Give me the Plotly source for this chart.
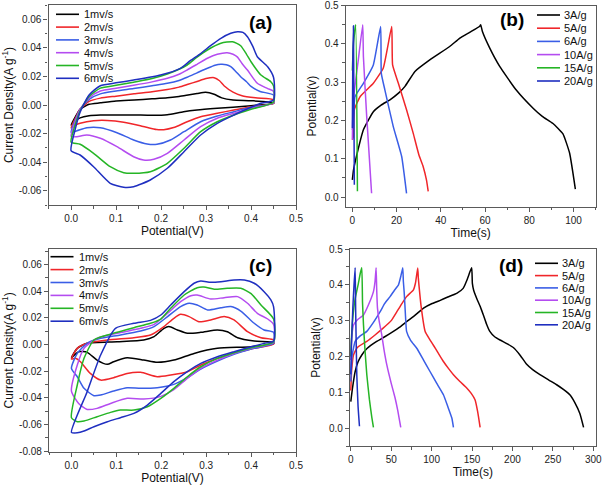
import plotly.graph_objects as go

# ---------------- labels / series names ----------------
SCAN_RATES = ["1mv/s", "2mv/s", "3mv/s", "4mv/s", "5mv/s", "6mv/s"]
CURRENT_DENSITIES = ["3A/g", "5A/g", "6A/g", "10A/g", "15A/g", "20A/g"]
COLORS = ["#000000", "#f0262a", "#3a5ee6", "#b44cf0", "#25b525", "#1f2fc0"]

# ---------------- panel (a): CV curves ----------------
A_UP_V = [
    [0, 0.01, 0.02, 0.04, 0.065, 0.1, 0.14, 0.18, 0.214, 0.24, 0.26, 0.28, 0.299, 0.318, 0.335, 0.36, 0.4, 0.45],
    [0, 0.01, 0.02, 0.04, 0.065, 0.1, 0.14, 0.18, 0.214, 0.24, 0.26, 0.28, 0.3, 0.318, 0.33, 0.34, 0.36, 0.38, 0.41, 0.45],
    [0, 0.01, 0.02, 0.04, 0.065, 0.1, 0.139, 0.18, 0.214, 0.24, 0.258, 0.28, 0.303, 0.32, 0.333, 0.345, 0.355, 0.366, 0.377, 0.39, 0.4, 0.42, 0.45],
    [0, 0.01, 0.02, 0.04, 0.065, 0.1, 0.139, 0.18, 0.214, 0.24, 0.258, 0.28, 0.303, 0.325, 0.347, 0.36, 0.37, 0.38, 0.392, 0.414, 0.437, 0.45],
    [0, 0.01, 0.02, 0.04, 0.065, 0.1, 0.139, 0.18, 0.214, 0.24, 0.258, 0.28, 0.303, 0.333, 0.359, 0.377, 0.39, 0.4, 0.422, 0.444, 0.45],
    [0, 0.01, 0.02, 0.04, 0.065, 0.1, 0.139, 0.199, 0.243, 0.265, 0.288, 0.31, 0.333, 0.355, 0.37, 0.382, 0.392, 0.404, 0.414, 0.437, 0.45],
]
A_UP_J = [
    [-0.014, -0.008, -0.003, 0.0005, 0.0015, 0.0028, 0.0035, 0.0043, 0.005, 0.006, 0.007, 0.008, 0.0089, 0.0075, 0.005, 0.0035, 0.003, 0.0016],
    [-0.016, -0.009, -0.003, 0.0025, 0.0048, 0.0062, 0.0078, 0.0092, 0.0108, 0.0125, 0.0145, 0.0165, 0.0185, 0.0191, 0.017, 0.0135, 0.009, 0.0065, 0.005, 0.0037],
    [-0.019, -0.01, -0.003, 0.004, 0.0078, 0.0098, 0.0115, 0.0135, 0.0152, 0.0172, 0.0194, 0.0225, 0.0257, 0.0278, 0.0285, 0.0282, 0.0268, 0.0235, 0.0198, 0.0163, 0.013, 0.0095, 0.007],
    [-0.022, -0.011, -0.003, 0.005, 0.0098, 0.0118, 0.0138, 0.0162, 0.0187, 0.0215, 0.0245, 0.0285, 0.0327, 0.0355, 0.0366, 0.0355, 0.0335, 0.029, 0.0245, 0.0152, 0.0115, 0.0095],
    [-0.026, -0.013, -0.004, 0.006, 0.0118, 0.0138, 0.016, 0.0185, 0.0217, 0.025, 0.028, 0.0335, 0.0385, 0.0432, 0.0443, 0.0415, 0.0355, 0.0303, 0.021, 0.0163, 0.0135],
    [-0.032, -0.016, -0.005, 0.007, 0.0135, 0.0155, 0.0175, 0.021, 0.0257, 0.031, 0.036, 0.0415, 0.0467, 0.0502, 0.0513, 0.0508, 0.0478, 0.041, 0.0338, 0.0268, 0.0194],
]
A_LOW_V = [
    [0.45, 0.42, 0.4, 0.36, 0.325, 0.28, 0.25, 0.214, 0.18, 0.14, 0.1, 0.065, 0.04, 0.02, 0.01, 0],
    [0.45, 0.4, 0.362, 0.325, 0.288, 0.258, 0.228, 0.206, 0.19, 0.17, 0.154, 0.117, 0.08, 0.05, 0.02, 0.01, 0],
    [0.45, 0.4, 0.362, 0.325, 0.288, 0.251, 0.221, 0.191, 0.169, 0.139, 0.102, 0.065, 0.035, 0.013, 0],
    [0.45, 0.4, 0.362, 0.325, 0.288, 0.251, 0.214, 0.184, 0.161, 0.139, 0.102, 0.065, 0.035, 0.013, 0],
    [0.45, 0.4, 0.362, 0.325, 0.288, 0.251, 0.214, 0.176, 0.139, 0.117, 0.087, 0.05, 0.02, 0],
    [0.45, 0.422, 0.4, 0.362, 0.325, 0.288, 0.251, 0.214, 0.176, 0.139, 0.117, 0.087, 0.05, 0.02, 0],
]
A_LOW_J = [
    [0.001, 0.0, -0.0005, -0.0015, -0.0023, -0.0035, -0.0047, -0.0068, -0.0072, -0.007, -0.007, -0.007, -0.0075, -0.009, -0.011, -0.014],
    [0.0012, -0.0012, -0.0035, -0.0058, -0.0082, -0.0117, -0.0158, -0.0173, -0.0172, -0.0158, -0.0145, -0.012, -0.0108, -0.011, -0.0128, -0.014, -0.016],
    [0.0015, -0.0016, -0.0047, -0.0077, -0.0117, -0.0187, -0.0245, -0.0275, -0.0273, -0.0245, -0.0194, -0.0159, -0.0159, -0.018, -0.019],
    [0.0015, -0.0023, -0.0058, -0.0093, -0.0152, -0.0245, -0.0338, -0.038, -0.0385, -0.0362, -0.0292, -0.0233, -0.021, -0.0222, -0.022],
    [0.002, -0.003, -0.007, -0.0117, -0.0187, -0.0303, -0.0408, -0.0467, -0.0478, -0.0474, -0.0432, -0.0338, -0.0275, -0.026],
    [0.0035, 0.0012, -0.0016, -0.007, -0.0128, -0.021, -0.0327, -0.0443, -0.0525, -0.0572, -0.0576, -0.0548, -0.0432, -0.035, -0.032],
]

# ---------------- panel (c): CV curves ----------------
C_UP_V = [
    [0, 0.013, 0.035, 0.102, 0.161, 0.184, 0.206, 0.217, 0.236, 0.258, 0.288, 0.325, 0.347, 0.37, 0.407, 0.45],
    [0, 0.013, 0.035, 0.08, 0.139, 0.176, 0.206, 0.228, 0.243, 0.262, 0.284, 0.31, 0.34, 0.362, 0.392, 0.422, 0.45],
    [0, 0.013, 0.035, 0.065, 0.109, 0.154, 0.184, 0.214, 0.243, 0.262, 0.28, 0.303, 0.333, 0.355, 0.377, 0.407, 0.429, 0.45],
    [0, 0.013, 0.028, 0.057, 0.102, 0.154, 0.184, 0.214, 0.243, 0.266, 0.28, 0.31, 0.34, 0.37, 0.392, 0.414, 0.437, 0.45],
    [0, 0.013, 0.028, 0.05, 0.08, 0.139, 0.176, 0.199, 0.221, 0.251, 0.28, 0.295, 0.318, 0.347, 0.377, 0.4, 0.422, 0.45],
    [0, 0.035, 0.065, 0.098, 0.139, 0.176, 0.199, 0.221, 0.251, 0.273, 0.288, 0.31, 0.333, 0.362, 0.385, 0.407, 0.429, 0.444, 0.45],
]
C_UP_J = [
    [-0.01, -0.003, 0.0008, 0.002, 0.0033, 0.0058, 0.012, 0.0133, 0.0108, 0.0083, 0.009, 0.0108, 0.0095, 0.005, 0.0025, 0.0015],
    [-0.011, -0.003, 0.0008, 0.0033, 0.005, 0.007, 0.0133, 0.0195, 0.0225, 0.0208, 0.017, 0.0183, 0.0208, 0.0183, 0.0095, 0.005, 0.0033],
    [-0.018, -0.0068, 0.0008, 0.0045, 0.007, 0.01, 0.0133, 0.0208, 0.0283, 0.0308, 0.0295, 0.0258, 0.0275, 0.0283, 0.025, 0.0158, 0.0108, 0.009],
    [-0.035, -0.0155, -0.003, 0.0045, 0.0083, 0.012, 0.015, 0.0233, 0.032, 0.0365, 0.037, 0.034, 0.035, 0.0358, 0.0308, 0.0233, 0.019, 0.015],
    [-0.055, -0.0305, -0.0105, 0.0033, 0.007, 0.0125, 0.0158, 0.019, 0.027, 0.037, 0.0425, 0.043, 0.0413, 0.042, 0.042, 0.038, 0.0295, 0.019],
    [-0.066, -0.0355, -0.008, 0.012, 0.0158, 0.018, 0.022, 0.0295, 0.0395, 0.0458, 0.0475, 0.0465, 0.047, 0.0483, 0.0483, 0.0458, 0.0395, 0.0333, 0.0283],
]
C_LOW_V = [
    [0.45, 0.4, 0.325, 0.273, 0.228, 0.191, 0.161, 0.124, 0.094, 0.08, 0.057, 0.035, 0.016, 0],
    [0.45, 0.4, 0.362, 0.325, 0.288, 0.258, 0.221, 0.191, 0.154, 0.124, 0.094, 0.065, 0.042, 0.02, 0.009, 0],
    [0.45, 0.4, 0.362, 0.325, 0.288, 0.258, 0.228, 0.191, 0.154, 0.124, 0.094, 0.065, 0.05, 0.028, 0.013, 0],
    [0.45, 0.4, 0.362, 0.325, 0.288, 0.258, 0.228, 0.199, 0.161, 0.124, 0.087, 0.057, 0.035, 0.016, 0],
    [0.45, 0.4, 0.362, 0.325, 0.288, 0.258, 0.228, 0.199, 0.169, 0.139, 0.109, 0.087, 0.057, 0.028, 0.013, 0],
    [0.45, 0.43, 0.4, 0.362, 0.325, 0.288, 0.258, 0.228, 0.199, 0.169, 0.139, 0.109, 0.08, 0.05, 0.028, 0.013, 0],
]
C_LOW_J = [
    [0.0005, -0.0018, -0.003, -0.0068, -0.0118, -0.0135, -0.0118, -0.01, -0.013, -0.015, -0.0118, -0.006, -0.0055, -0.01],
    [0.0003, -0.0035, -0.0068, -0.0105, -0.0155, -0.0205, -0.023, -0.0243, -0.021, -0.0218, -0.025, -0.0268, -0.0218, -0.013, -0.0105, -0.011],
    [0.0008, -0.0035, -0.0075, -0.0125, -0.0185, -0.025, -0.03, -0.0325, -0.033, -0.0325, -0.035, -0.038, -0.0385, -0.033, -0.0243, -0.018],
    [0.0015, -0.003, -0.0068, -0.0118, -0.018, -0.0255, -0.034, -0.039, -0.041, -0.0405, -0.0443, -0.048, -0.0488, -0.0443, -0.035],
    [0.002, -0.0025, -0.0063, -0.0105, -0.0168, -0.0243, -0.033, -0.0405, -0.0468, -0.0493, -0.0493, -0.051, -0.0543, -0.0575, -0.058, -0.055],
    [0.0025, 0.0008, -0.0018, -0.0055, -0.0093, -0.0143, -0.0205, -0.028, -0.0368, -0.0455, -0.0518, -0.055, -0.058, -0.0618, -0.065, -0.0663, -0.066],
]

# ---------------- panel (b): charge / discharge ----------------
B_TIME = [
    [0, 0.5, 2, 5, 9.5, 13, 17, 21, 23.8, 28.3, 35, 44, 48.6, 53, 57.6, 58, 58.8, 62, 66.6, 74, 81.7, 86, 90.7, 95.2, 98.2, 100.8],
    [0, 0.45, 0.9, 3.5, 9.5, 14, 17.8, 18.2, 20.8, 24.5, 27.5, 30.1, 32, 33.5, 34.3],
    [0, 0.2, 1.2, 5, 9.5, 12.8, 13.1, 14.7, 18.5, 22.3, 24.5],
    [0, 0.45, 2.7, 4.7, 5, 6.5, 8.7],
    [0, 0.5, 1.5, 2.3],
    [0, 0.2, 0.5, 0.7, 0.9],
]
B_POT = [
    [0.045, 0.07, 0.11, 0.176, 0.223, 0.24, 0.254, 0.272, 0.289, 0.328, 0.358, 0.393, 0.415, 0.43, 0.446, 0.45, 0.432, 0.39, 0.341, 0.28, 0.232, 0.21, 0.192, 0.165, 0.115, 0.021],
    [0.15, 0.158, 0.228, 0.262, 0.297, 0.337, 0.445, 0.345, 0.297, 0.228, 0.167, 0.11, 0.08, 0.045, 0.015],
    [0.175, 0.18, 0.262, 0.297, 0.345, 0.445, 0.323, 0.28, 0.184, 0.106, 0.01],
    [0.15, 0.254, 0.358, 0.45, 0.367, 0.21, 0.01],
    [0.33, 0.4, 0.45, 0.015],
    [0.18, 0.35, 0.447, 0.25, 0.032],
]

# ---------------- panel (d): charge / discharge ----------------
D_TIME = [
    [0, 2, 5.4, 9, 13.6, 20, 32, 42, 52.7, 60, 69, 80, 90, 100, 110, 120, 131, 139, 144, 147.5, 149.6, 150.4, 152, 155.8, 160, 164, 168, 172, 178, 184.6, 193, 201, 209, 217.6, 225, 234, 245, 254.7, 263, 271, 277, 283.5, 288],
    [0, 1, 3.3, 8, 19.8, 30, 40, 50, 57, 63, 69, 74, 77.5, 80, 82.8, 83.5, 84.5, 87, 92, 97, 102, 108, 114.6, 121, 127, 135, 143.4, 149, 153.7, 157, 160],
    [0, 1.5, 5.4, 12, 19.8, 28, 36.3, 42, 48.6, 54, 59, 62, 64.3, 65, 66, 67.5, 69, 74, 81.6, 90, 98, 106, 114.6, 120, 125, 127],
    [0, 1, 3.3, 8, 15.7, 22, 28, 30, 31.3, 32, 33, 35, 38.3, 41, 44.5, 50, 54.8, 58, 61.8],
    [0, 1, 3, 5.4, 9, 12, 13.6, 14.5, 15.7, 17.5, 19.8, 23, 26, 28],
    [0, 0.8, 2.5, 4, 5.4, 6, 7.4, 9, 10.7],
]
D_POT = [
    [0.074, 0.11, 0.158, 0.185, 0.204, 0.222, 0.242, 0.255, 0.27, 0.281, 0.297, 0.316, 0.335, 0.347, 0.356, 0.366, 0.376, 0.39, 0.415, 0.437, 0.448, 0.404, 0.385, 0.362, 0.34, 0.316, 0.29, 0.27, 0.255, 0.246, 0.236, 0.225, 0.205, 0.178, 0.163, 0.149, 0.134, 0.121, 0.108, 0.093, 0.072, 0.04, 0.002],
    [0.105, 0.16, 0.204, 0.225, 0.242, 0.26, 0.279, 0.3, 0.325, 0.347, 0.367, 0.378, 0.386, 0.405, 0.447, 0.42, 0.395, 0.34, 0.27, 0.25, 0.232, 0.21, 0.186, 0.166, 0.149, 0.13, 0.112, 0.097, 0.079, 0.045, 0.002],
    [0.13, 0.2, 0.242, 0.258, 0.27, 0.295, 0.325, 0.348, 0.367, 0.385, 0.4, 0.425, 0.448, 0.41, 0.381, 0.32, 0.27, 0.245, 0.223, 0.19, 0.158, 0.126, 0.093, 0.06, 0.028, 0.002],
    [0.19, 0.25, 0.288, 0.302, 0.316, 0.345, 0.381, 0.41, 0.448, 0.39, 0.335, 0.3, 0.26, 0.22, 0.177, 0.125, 0.084, 0.05, 0.002],
    [0.2, 0.26, 0.32, 0.362, 0.4, 0.435, 0.448, 0.35, 0.288, 0.22, 0.149, 0.08, 0.03, 0.002],
    [0.15, 0.23, 0.335, 0.4, 0.448, 0.33, 0.149, 0.06, 0.005],
]

# ---------------- axis ticks ----------------
CV_X_TICKS = [0.0, 0.1, 0.2, 0.3, 0.4, 0.5]
CV_X_LABELS = ["0.0", "0.1", "0.2", "0.3", "0.4", "0.5"]
A_Y_TICKS = [-0.06, -0.04, -0.02, 0.0, 0.02, 0.04, 0.06]
A_Y_LABELS = ["-0.06", "-0.04", "-0.02", "0.00", "0.02", "0.04", "0.06"]
C_Y_TICKS = [-0.08, -0.06, -0.04, -0.02, 0.0, 0.02, 0.04, 0.06]
C_Y_LABELS = ["-0.08", "-0.06", "-0.04", "-0.02", "0.00", "0.02", "0.04", "0.06"]
B_X_TICKS = [0, 20, 40, 60, 80, 100]
D_X_TICKS = [0, 50, 100, 150, 200, 250, 300]
GCD_Y_TICKS = [0.0, 0.1, 0.2, 0.3, 0.4, 0.5]
GCD_Y_LABELS = ["0.0", "0.1", "0.2", "0.3", "0.4", "0.5"]

# ---------------- layout geometry (pixels in 605x485 canvas) ----------------
W, H = 605, 485
BOX = {  # left, top, right, bottom
    "a": (48.6, 5.0, 296.0, 205.0),
    "b": (345.7, 5.5, 595.7, 206.7),
    "c": (49.0, 249.0, 296.0, 451.7),
    "d": (350.0, 249.0, 595.7, 446.0),
}
AX = {"a": ("x", "y", ""), "b": ("x2", "y2", "2"), "c": ("x3", "y3", "3"), "d": ("x4", "y4", "4")}

FONT = "Arial, Liberation Sans, sans-serif"
AXCOL = "#5a5a5a"

fig = go.Figure()

for i, name in enumerate(SCAN_RATES):
    fig.add_trace(go.Scatter(x=A_UP_V[i] + A_LOW_V[i], y=A_UP_J[i] + A_LOW_J[i], mode="lines", name=name,
                             line=dict(color=COLORS[i], width=1.5, shape="spline", smoothing=0.6),
                             xaxis="x", yaxis="y", showlegend=False))
for i, name in enumerate(CURRENT_DENSITIES):
    fig.add_trace(go.Scatter(x=B_TIME[i], y=B_POT[i], mode="lines", name=name,
                             line=dict(color=COLORS[i], width=1.5, shape="spline", smoothing=0.4),
                             xaxis="x2", yaxis="y2", showlegend=False))
for i, name in enumerate(SCAN_RATES):
    fig.add_trace(go.Scatter(x=C_UP_V[i] + C_LOW_V[i], y=C_UP_J[i] + C_LOW_J[i], mode="lines", name=name,
                             line=dict(color=COLORS[i], width=1.5, shape="spline", smoothing=0.6),
                             xaxis="x3", yaxis="y3", showlegend=False))
for i, name in enumerate(CURRENT_DENSITIES):
    fig.add_trace(go.Scatter(x=D_TIME[i], y=D_POT[i], mode="lines", name=name,
                             line=dict(color=COLORS[i], width=1.5, shape="spline", smoothing=0.4),
                             xaxis="x4", yaxis="y4", showlegend=False))


def axis_common():
    return dict(showline=True, mirror=True, linecolor=AXCOL, linewidth=1.3, automargin=False,
                ticks="outside", ticklen=4, tickwidth=1, tickcolor=AXCOL,
                showgrid=False, zeroline=False,
                tickfont=dict(family=FONT, size=10, color="#222222"))


def dom(key):
    l, t, r, b = BOX[key]
    return [l / W, r / W], [1 - b / H, 1 - t / H]


specs = {
    "a": dict(xr=[-0.05, 0.5], yr=[-0.07, 0.07], xt=CV_X_TICKS, xl=CV_X_LABELS, yt=A_Y_TICKS, yl=A_Y_LABELS,
              xminor=0.05, yminor=0.01, xtitle="Potential(V)", ytitle="Current Density(A g<sup>-1</sup>)"),
    "b": dict(xr=[-3, 110], yr=[-0.025, 0.5], xt=B_X_TICKS, xl=[str(v) for v in B_X_TICKS], yt=GCD_Y_TICKS,
              yl=GCD_Y_LABELS, xminor=10, yminor=0.05, xtitle="Time(s)", ytitle="Potential(v)"),
    "c": dict(xr=[-0.05, 0.5], yr=[-0.0805, 0.0715], xt=CV_X_TICKS, xl=CV_X_LABELS, yt=C_Y_TICKS, yl=C_Y_LABELS,
              xminor=0.05, yminor=0.01, xtitle="Potential(V)", ytitle="Current Density(A g<sup>-1</sup>)"),
    "d": dict(xr=[-1, 303], yr=[-0.05, 0.5], xt=D_X_TICKS, xl=[str(v) for v in D_X_TICKS], yt=GCD_Y_TICKS,
              yl=GCD_Y_LABELS, xminor=25, yminor=0.05, xtitle="Time(s)", ytitle="Potential(v)"),
}

layout = dict(width=W, height=H, margin=dict(l=0, r=0, t=0, b=0),
              paper_bgcolor="white", plot_bgcolor="white", showlegend=False)

for key, s in specs.items():
    xd, yd = dom(key)
    xa, ya, suf = AX[key]
    xax = axis_common()
    xax.update(domain=xd, range=s["xr"], tickmode="array", tickvals=s["xt"], ticktext=s["xl"], anchor=ya,
               minor=dict(dtick=s["xminor"], ticks="outside", ticklen=2.5, tickcolor=AXCOL, tickwidth=1),
               title=dict(text=s["xtitle"], font=dict(family=FONT, size=12, color="#111111"), standoff=3))
    yax = axis_common()
    yax.update(domain=yd, range=s["yr"], tickmode="array", tickvals=s["yt"], ticktext=s["yl"], anchor=xa,
               minor=dict(dtick=s["yminor"], ticks="outside", ticklen=2.5, tickcolor=AXCOL, tickwidth=1),
               title=dict(text=s["ytitle"], font=dict(family=FONT, size=12, color="#111111"), standoff=5))
    layout["xaxis" + suf] = xax
    layout["yaxis" + suf] = yax

fig.update_layout(**layout)

# ---------------- panel letters and hand-made legends ----------------
LETTER_POS = {"a": (260, 23), "b": (512, 19.5), "c": (260, 265), "d": (511, 265)}
LEGEND_POS = {  # line start x, line end x, text x, first row y, row step (px)
    "a": (56, 79, 81.5, 14.3, 12.8),
    "b": (537, 560, 562, 15.0, 13.2),
    "c": (50.5, 73.5, 77, 256.7, 12.9),
    "d": (535, 558, 560, 263.3, 12.3),
}
LEGEND_NAMES = {"a": SCAN_RATES, "b": CURRENT_DENSITIES, "c": SCAN_RATES, "d": CURRENT_DENSITIES}

for key in BOX:
    l, t, r, b = BOX[key]
    xa, ya, suf = AX[key]
    fx = lambda px: (px - l) / (r - l)
    fy = lambda py: 1 - (py - t) / (b - t)
    lx, ly = LETTER_POS[key]
    fig.add_annotation(text="<b>(%s)</b>" % key, x=fx(lx), y=fy(ly), xref=xa + " domain", yref=ya + " domain",
                       showarrow=False, xanchor="center", yanchor="middle",
                       font=dict(family=FONT, size=19, color="#000000"))
    x0, x1, tx, y0, dy = LEGEND_POS[key]
    for i, name in enumerate(LEGEND_NAMES[key]):
        py = y0 + i * dy
        fig.add_shape(type="line", x0=fx(x0), x1=fx(x1), y0=fy(py), y1=fy(py),
                      xref=xa + " domain", yref=ya + " domain", line=dict(color=COLORS[i], width=1.6))
        fig.add_annotation(text=name, x=fx(tx), y=fy(py), xref=xa + " domain", yref=ya + " domain",
                           showarrow=False, xanchor="left", yanchor="middle",
                           font=dict(family=FONT, size=11, color="#111111"))

fig.write_html("out.html", config={"displayModeBar": False},
               post_script="document.body.style.margin='0px';document.body.style.overflow='hidden';")
